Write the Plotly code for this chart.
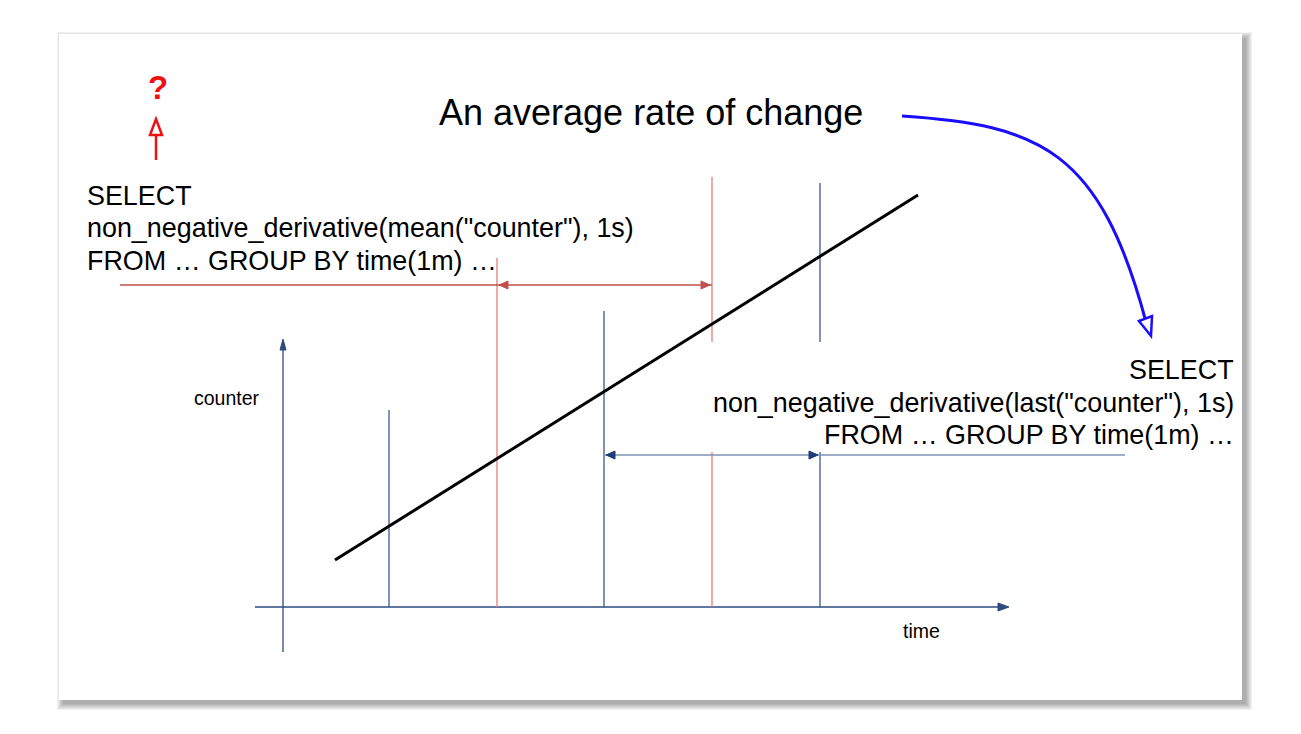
import plotly.graph_objects as go

W, H = 1301, 734
OFF = 8  # page body margin compensation

# ---- diagram data (in diagram units: x to the right, y downwards) ----
card = dict(x0=59, y0=34, x1=1242, y1=700)

axis_color = "#2e4a7f"
x_axis = dict(x=[255, 1006], y=[607, 607])
y_axis = dict(x=[283, 283], y=[652, 342])

blue_lines_x = [389, 604, 820]
blue_lines_top = [410, 311, 183]
blue_lines_gapped = [False, False, True]
red_lines_x = [497, 712]
red_lines_top = [258, 177]
red_lines_gapped = [False, True]
gap = (342, 452)
baseline_y = 607

counter_line_x = [335, 918]
counter_line_y = [560, 195]

red_span = dict(x0=497, x1=712, y=285, lead=120)
blue_span = dict(x0=604, x1=820, y=455, tail=1125)

title_text = "An average rate of change"
left_query = ["SELECT", 'non_negative_derivative(mean("counter"), 1s)', "FROM … GROUP BY time(1m) …"]
left_query_y = [195.5, 228, 260.5]
right_query = ["SELECT", 'non_negative_derivative(last("counter"), 1s)', "FROM … GROUP BY time(1m) …"]
right_query_y = [370, 402.5, 435]

fig = go.Figure()
shapes = []
annotations = []

# card shadow
for d in range(1, 8):
    shapes.append(dict(type="rect", x0=card["x0"] + 5 - d, y0=card["y0"] + 5 - d,
                       x1=card["x1"] + 3 + d, y1=card["y1"] + 3 + d,
                       fillcolor="rgba(0,0,0,0.05)", line=dict(width=0), layer="below"))
shapes.append(dict(type="rect", **card, fillcolor="white", line=dict(width=0), layer="below"))

def seg(xs, ys, color, width):
    fig.add_trace(go.Scatter(x=xs, y=ys, mode="lines", line=dict(color=color, width=width),
                             hoverinfo="skip", showlegend=False))

# axes
seg(x_axis["x"], x_axis["y"], axis_color, 1.3)
seg(y_axis["x"], y_axis["y"], axis_color, 1.3)
ax_end = x_axis["x"][1]
shapes.append(dict(type="path", path=f"M {ax_end-8} {baseline_y-4} L {ax_end+3} {baseline_y} L {ax_end-8} {baseline_y+4} Z",
                   fillcolor=axis_color, line=dict(color=axis_color, width=1)))
ay_end = y_axis["y"][1]
yx = y_axis["x"][0]
shapes.append(dict(type="path", path=f"M {yx-3} {ay_end+8} L {yx} {ay_end-3} L {yx+3} {ay_end+8} Z",
                   fillcolor=axis_color, line=dict(color=axis_color, width=1)))

def verticals(xs, tops, gapped, color):
    for x, top, g in zip(xs, tops, gapped):
        if g:
            seg([x, x], [top, gap[0]], color, 1.3)
            seg([x, x], [gap[1], baseline_y], color, 1.3)
        else:
            seg([x, x], [top, baseline_y], color, 1.3)

verticals(red_lines_x, red_lines_top, red_lines_gapped, "#e87c7c")
verticals(blue_lines_x, blue_lines_top, blue_lines_gapped, "#3a5a8f")

# red span
red_h = "#c0504d"
ry = red_span["y"]
seg([red_span["lead"], red_span["x1"]], [ry, ry], red_h, 1.3)
for xt, s in [(red_span["x0"], 1), (red_span["x1"], -1)]:
    shapes.append(dict(type="path",
                       path=f"M {xt+2*s} {ry} L {xt+11*s} {ry-4} L {xt+11*s} {ry+4} Z",
                       fillcolor=red_h, line=dict(color=red_h, width=1)))

# blue span
blue_h = "#7f93b5"
by = blue_span["y"]
seg([blue_span["x0"], blue_span["tail"]], [by, by], blue_h, 1.3)
for xt, s in [(blue_span["x0"], 1), (blue_span["x1"], -1)]:
    shapes.append(dict(type="path",
                       path=f"M {xt+2*s} {by} L {xt+11*s} {by-4} L {xt+11*s} {by+4} Z",
                       fillcolor="#1f3d7a", line=dict(color="#1f3d7a", width=1)))

# counter line
seg(counter_line_x, counter_line_y, "black", 3)

# red up arrow + question mark
shapes.append(dict(type="line", x0=156, y0=160, x1=156, y1=135, line=dict(color="#ee1111", width=2.5)))
shapes.append(dict(type="path", path="M 150 135 L 156 119 L 162 135 Z",
                   fillcolor="white", line=dict(color="#ee1111", width=2.5)))
annotations.append(dict(x=158, y=87, text="<b>?</b>", showarrow=False, xanchor="center", yanchor="middle",
                        font=dict(family="Liberation Sans", size=33, color="#ee1111")))

# blue curved arrow
shapes.append(dict(type="path", path="M 902 116 C 1040 125, 1100 150, 1146 322",
                   line=dict(color="#1a0dff", width=3)))
shapes.append(dict(type="path", path="M 1139 321 L 1152 316 L 1151 336 Z",
                   fillcolor="white", line=dict(color="#1a0dff", width=2.5)))

# texts
annotations.append(dict(x=651, y=112, text=title_text, showarrow=False, xanchor="center", yanchor="middle",
                        font=dict(family="Liberation Sans", size=36, color="black")))
for txt, yy in zip(left_query, left_query_y):
    annotations.append(dict(x=85, y=yy, text=txt, showarrow=False, xanchor="left", yanchor="middle",
                            font=dict(family="Liberation Sans", size=26.9, color="black")))
for txt, yy in zip(right_query, right_query_y):
    annotations.append(dict(x=1236, y=yy, text=txt, showarrow=False, xanchor="right", yanchor="middle",
                            font=dict(family="Liberation Sans", size=26.9, color="black")))
annotations.append(dict(x=227, y=398, text="counter", showarrow=False, xanchor="center", yanchor="middle",
                        font=dict(family="Liberation Sans", size=19.5, color="black")))
annotations.append(dict(x=921, y=631, text="time", showarrow=False, xanchor="center", yanchor="middle",
                        font=dict(family="Liberation Sans", size=19.5, color="black")))

fig.update_layout(
    width=W, height=H, margin=dict(l=0, r=0, t=0, b=0),
    paper_bgcolor="white", plot_bgcolor="white",
    xaxis=dict(range=[OFF, W + OFF], visible=False, fixedrange=True),
    yaxis=dict(range=[H + OFF, OFF], visible=False, fixedrange=True),
    shapes=shapes, annotations=annotations, showlegend=False,
)
fig.write_html("out.html")
